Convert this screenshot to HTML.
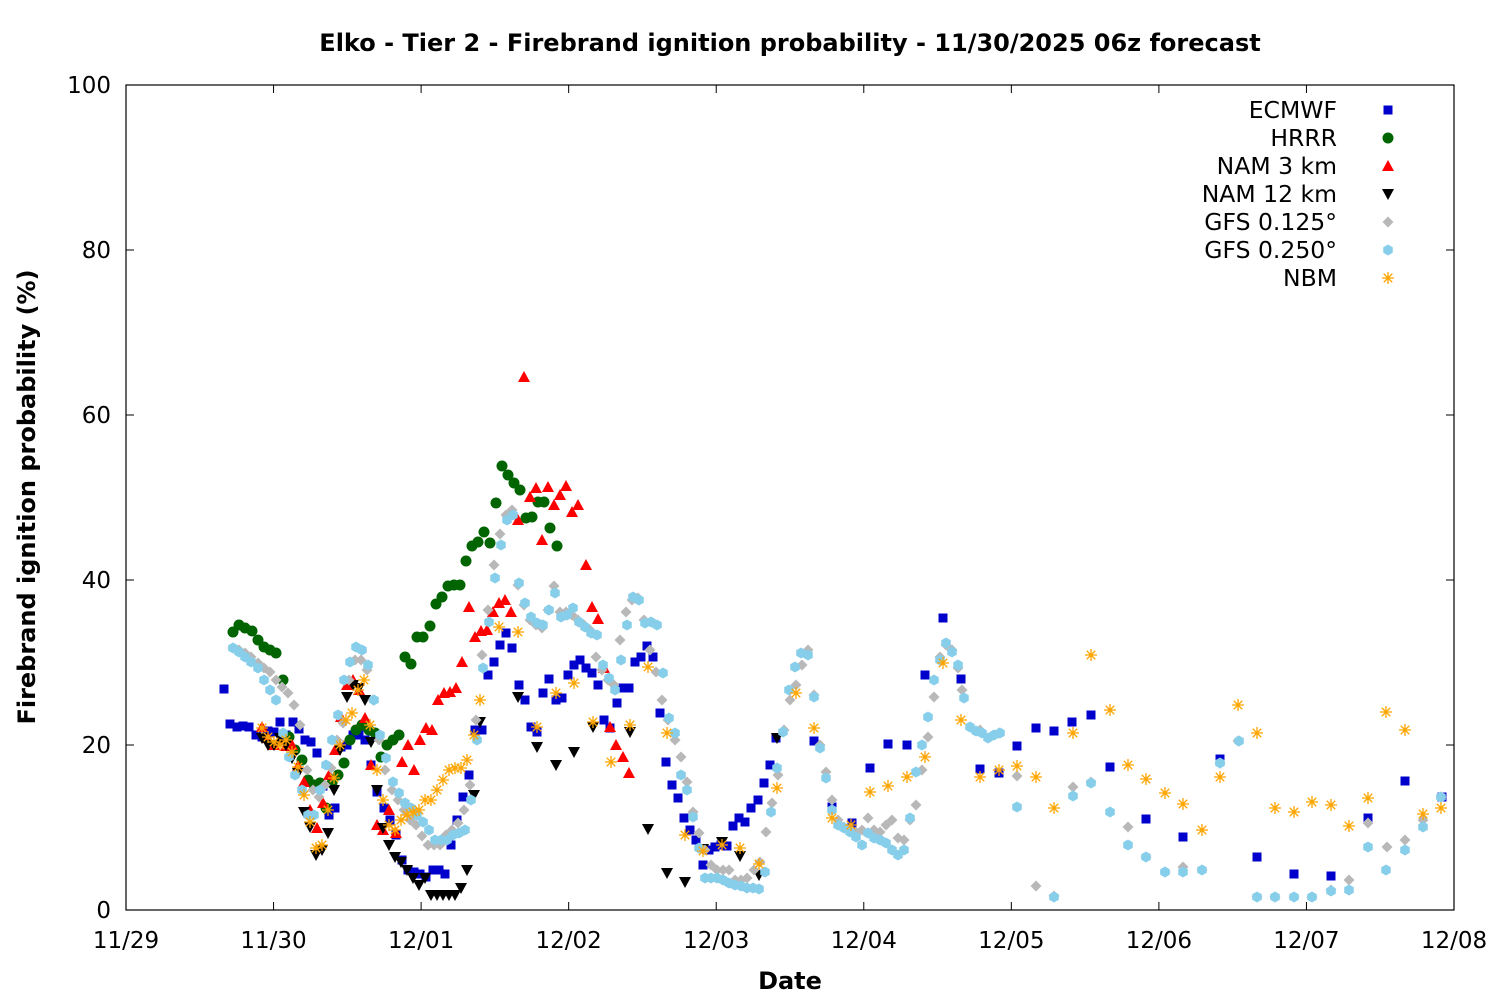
<!DOCTYPE html>
<html><head><meta charset="utf-8"><style>
html,body{margin:0;padding:0;background:#fff}
svg{display:block}
text{font-family:"DejaVu Sans","Liberation Sans",sans-serif;fill:#000}
</style></head><body>
<svg id="s" width="1500" height="1000" xmlns="http://www.w3.org/2000/svg">
<rect x="0" y="0" width="1500" height="1000" fill="#fff"/>
<text x="790" y="51" font-size="24" font-weight="bold" text-anchor="middle">Elko - Tier 2 - Firebrand ignition probability - 11/30/2025 06z forecast</text>
<text x="790" y="989" font-size="24" font-weight="bold" text-anchor="middle">Date</text>
<text transform="translate(35,497) rotate(-90)" font-size="24" font-weight="bold" text-anchor="middle">Firebrand ignition probability (%)</text>
<g id="ax"></g>
<g id="pts"></g>
<rect x="126" y="85" width="1328" height="825" fill="none" stroke="#000" stroke-width="1.2"/>
</svg>
<script>
var NS="http://www.w3.org/2000/svg",ax=document.getElementById('ax'),P=document.getElementById('pts');
function el(t,a,p,txt){var e=document.createElementNS(NS,t);for(var k in a)e.setAttribute(k,a[k]);if(txt)e.textContent=txt;(p||P).appendChild(e);return e;}
var days=["11/29","11/30","12/01","12/02","12/03","12/04","12/05","12/06","12/07","12/08"];
for(var i=0;i<10;i++){var x=126+i*1328/9;
el('line',{x1:x,y1:910,x2:x,y2:902,stroke:'#000'},ax);el('line',{x1:x,y1:85,x2:x,y2:93,stroke:'#000'},ax);
el('text',{x:x,y:948,'font-size':23,'text-anchor':'middle'},ax,days[i]);}
for(var v=0;v<=100;v+=20){var y=910-v*8.25;
el('line',{x1:126,y1:y,x2:134,y2:y,stroke:'#000'},ax);el('line',{x1:1454,y1:y,x2:1446,y2:y,stroke:'#000'},ax);
el('text',{x:111,y:y+8,'font-size':23,'text-anchor':'end'},ax,String(v));}
function sq(x,y,c){el('rect',{x:x-4.5,y:y-4.5,width:9,height:9,fill:c});}
function ci(x,y,c){el('circle',{cx:x,cy:y,r:5.5,fill:c});}
function tu(x,y,c){el('polygon',{points:(x-6)+','+(y+5)+' '+(x+6)+','+(y+5)+' '+x+','+(y-6),fill:c});}
function td(x,y,c){el('polygon',{points:(x-6)+','+(y-5)+' '+(x+6)+','+(y-5)+' '+x+','+(y+6),fill:c});}
function di(x,y,c){el('polygon',{points:x+','+(y-5.5)+' '+(x+5.5)+','+y+' '+x+','+(y+5.5)+' '+(x-5.5)+','+y,fill:c});}
function hx(x,y,c){var p=[];for(var k=0;k<6;k++){var a=Math.PI/3*k+Math.PI/6;p.push((x+5.5*Math.cos(a))+','+(y+5.5*Math.sin(a)));}el('polygon',{points:p.join(' '),fill:c});}
function st(x,y,c){var d='';for(var k=0;k<4;k++){var a=Math.PI/4*k,dx=6*Math.cos(a),dy=6*Math.sin(a);d+='M'+(x-dx)+' '+(y-dy)+'L'+(x+dx)+' '+(y+dy);}el('path',{d:d,stroke:c,'stroke-width':1.3,fill:'none'});}
function draw(a,f,c){for(var i=0;i<a.length;i+=2)f(a[i],a[i+1],c);}
var E=[224,689,230,724,237,727,243,726,249,727,256,735,262,737,268,731,274,732,280,722,286,735,293,722,299,729,305,740,311,742,317,753,323,786,329,815,335,808,341,747,347,745,353,735,359,735,365,740,371,765,377,792,384,808,390,820,396,835,402,860,408,870,414,872,420,874,426,877,433,870,439,870,445,874,451,845,457,820,463,797,469,775,475,730,482,730,488,675,494,662,500,645,506,633,512,648,519,685,525,700,531,727,537,732,543,693,549,679,556,700,562,698,568,675,574,665,580,660,586,668,592,673,598,685,604,720,610,728,617,703,623,688,629,688,635,662,641,657,647,646,653,657,660,713,666,762,672,785,678,798,684,818,690,830,696,840,703,865,709,850,715,847,721,845,727,846,733,826,739,818,745,822,751,808,758,800,764,783,770,765,776,738,814,741,832,807,852,823,870,768,888,744,907,745,925,675,943,618,961,679,980,769,999,773,1017,746,1036,728,1054,731,1072,722,1091,715,1110,767,1146,819,1183,837,1220,759,1257,857,1294,874,1331,876,1368,818,1405,781,1442,797];
var H=[233,632,239,625,245,628,252,631,258,640,264,647,270,650,276,653,283,680,289,737,295,750,302,760,308,780,314,785,320,783,326,808,332,783,338,775,344,763,350,740,356,730,362,725,369,730,375,733,381,757,387,745,393,740,399,735,405,657,411,664,417,637,423,637,430,626,436,604,442,597,448,586,454,585,460,585,466,561,472,546,478,542,484,532,490,543,496,503,502,466,508,475,514,483,520,490,526,518,532,517,538,502,544,502,550,528,557,546];
var N3=[262,727,268,738,274,745,280,740,286,746,292,745,298,766,304,782,310,810,317,828,323,803,329,775,335,750,341,717,347,685,353,680,359,690,365,718,371,765,377,825,383,830,389,810,396,833,402,762,408,745,414,770,420,740,426,728,432,730,438,700,444,693,450,692,456,688,462,662,469,607,475,637,481,631,487,630,493,612,499,603,505,600,511,612,518,520,524,377,530,497,536,488,542,540,548,487,554,505,560,495,566,486,572,512,578,505,586,565,592,607,598,619,604,668,610,727,616,745,623,757,629,773];
var N12=[262,738,268,745,274,745,280,738,286,745,292,758,298,773,304,812,310,827,316,855,322,850,328,833,334,790,340,750,347,697,353,685,359,688,365,700,371,742,377,790,383,828,389,845,395,857,401,862,407,870,413,878,419,885,425,878,431,895,437,895,443,895,449,895,455,895,461,888,467,870,474,795,480,722,518,697,537,747,556,765,574,752,593,727,630,732,648,829,667,873,685,882,703,849,722,842,740,856,759,875,777,738];
var G1=[233,648,239,650,245,653,251,657,258,663,264,668,270,672,276,680,282,687,288,693,294,705,300,725,307,770,313,790,319,797,325,785,331,768,337,740,343,723,349,680,355,660,361,660,367,670,373,700,379,740,385,770,392,790,398,800,404,810,410,820,416,825,422,836,428,845,434,845,440,845,446,835,452,830,458,823,464,810,470,785,476,720,482,655,488,610,494,565,500,534,506,515,512,510,518,585,524,605,530,620,536,625,542,628,548,610,554,586,560,612,566,612,572,615,578,620,584,625,590,630,596,657,602,670,608,680,614,685,620,640,626,612,632,600,638,598,644,620,650,650,656,672,662,700,668,720,675,740,681,757,687,782,693,812,699,833,705,850,711,865,717,870,723,870,729,870,735,880,741,880,747,878,754,870,760,862,766,832,772,803,778,775,784,730,790,700,796,685,802,665,808,650,814,695,820,745,826,772,832,800,838,820,844,827,850,830,856,832,862,830,868,818,874,830,880,832,886,825,892,820,898,838,904,840,910,820,916,805,922,770,928,737,934,697,940,657,946,645,952,650,958,668,962,690,1036,886,1054,896,1073,787,1091,782,1128,827,1146,857,1165,872,1183,867,1202,870,1220,763,1238,741,1257,897,1275,897,1294,897,1312,897,1331,890,1349,880,1368,823,1387,847,1405,840,1423,820,1441,797,980,730,999,733,1017,776];
var G2=[233,648,239,652,245,657,251,662,258,668,264,680,270,690,276,700,283,733,289,757,295,775,302,790,308,815,314,815,320,790,326,765,332,740,338,715,344,680,350,662,356,647,362,650,368,665,374,700,380,735,386,758,393,782,399,793,405,803,411,808,417,815,423,822,429,830,435,840,441,840,447,840,453,835,459,833,465,830,471,800,477,740,483,668,489,622,495,578,501,545,507,520,513,515,519,583,525,603,531,617,537,623,543,625,549,610,555,593,561,617,567,615,573,608,579,622,585,627,591,633,597,635,603,665,609,678,615,690,621,660,627,625,633,597,639,600,645,623,651,622,657,625,663,673,669,718,675,733,681,775,687,790,693,817,699,848,705,878,711,878,717,878,723,880,729,883,735,885,741,886,747,888,753,888,759,889,765,872,771,812,777,768,783,732,789,690,795,667,801,653,808,655,814,697,820,748,826,778,832,810,838,825,844,828,850,832,856,837,862,845,868,833,874,838,880,840,886,843,892,850,898,855,904,850,910,818,916,772,922,745,928,717,934,680,940,660,946,643,952,652,958,665,964,698,970,727,976,731,982,733,988,738,994,735,1000,733,1017,807,1054,897,1073,796,1091,783,1110,812,1128,845,1146,857,1165,872,1183,872,1202,870,1220,763,1239,741,1257,897,1275,897,1294,897,1312,897,1331,891,1349,890,1368,847,1386,870,1405,850,1423,827,1441,797];
var NB=[262,728,268,737,274,742,280,745,286,740,292,752,298,767,304,795,310,822,316,848,322,845,328,810,334,778,340,745,346,720,352,713,358,690,364,680,370,725,377,770,383,800,389,825,395,830,401,820,407,815,413,812,419,810,425,800,431,800,437,790,443,780,449,770,455,768,461,768,467,760,474,735,480,700,499,627,518,632,537,727,556,693,574,683,593,722,611,762,630,725,648,667,667,733,685,835,703,851,722,845,740,848,759,864,777,788,796,693,814,728,832,818,851,825,870,792,888,786,907,777,925,757,943,663,961,720,980,777,999,770,1017,766,1036,777,1054,808,1073,733,1091,655,1110,710,1128,765,1146,779,1165,793,1183,804,1202,830,1220,777,1238,705,1257,733,1275,808,1294,812,1312,802,1331,805,1349,826,1368,798,1386,712,1405,730,1423,814,1441,808];
draw(E,sq,'#0000cc');draw(H,ci,'#006400');draw(N3,tu,'#ff0000');draw(N12,td,'#000');
draw(G1,di,'#b8b8b8');draw(G2,hx,'#87ceeb');draw(NB,st,'#ffa500');
var L=[['ECMWF',sq,'#0000cc'],['HRRR',ci,'#006400'],['NAM 3 km',tu,'#ff0000'],['NAM 12 km',td,'#000'],['GFS 0.125°',di,'#b8b8b8'],['GFS 0.250°',hx,'#87ceeb'],['NBM',st,'#ffa500']];
for(var i=0;i<L.length;i++){var y=110+i*28;el('text',{x:1337,y:y+8,'font-size':23.5,'text-anchor':'end'},P,L[i][0]);L[i][1](1388,y,L[i][2]);}
</script>
</body></html>
